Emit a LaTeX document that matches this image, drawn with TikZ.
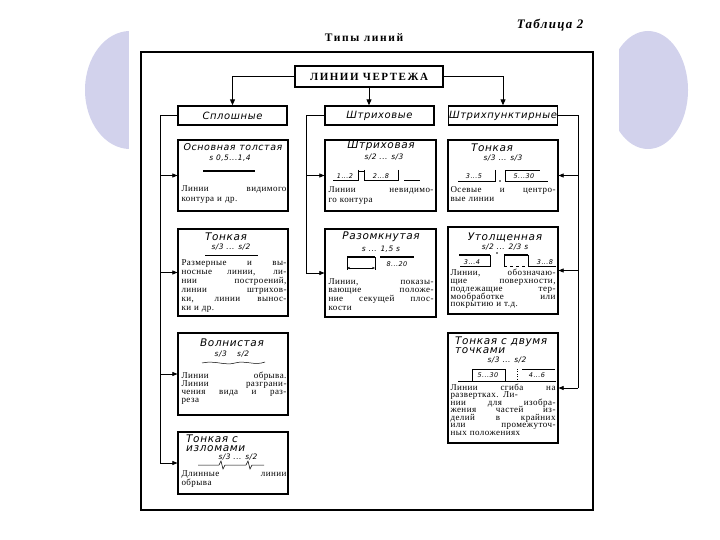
\documentclass[tikz,border=0pt]{standalone}
\usepackage{fontspec}
\setmainfont{Liberation Serif}
\newfontfamily\gost[LetterSpace=6]{DejaVu Sans}
\newfontfamily\bodyfont[LetterSpace=5]{Liberation Serif}
\usetikzlibrary{arrows.meta,positioning,calc}
\definecolor{lavender}{HTML}{D2D2EC}
\newlength{\bodyw}
\setlength{\bodyw}{105pt}
\newcommand{\jline}[1]{\makebox[\bodyw][s]{\spaceskip=0.3em plus 1fil\relax #1}}
\newcommand{\bodyset}[1]{\bodyfont\fontsize{9}{#1}\selectfont\lineskiplimit=-5pt}

\begin{document}
\begin{tikzpicture}[x=1pt, y=-1pt,
  headbox/.style={draw, line width=1.4pt, inner sep=0pt, minimum width=109pt, minimum height=19pt,
    font=\gost\itshape\fontsize{10}{11}\selectfont},
  linebox/.style={draw, line width=1.2pt, inner sep=0pt, minimum width=110pt},
  boxtitle/.style={inner sep=0pt, font=\gost\itshape\fontsize{10.5}{9}\selectfont},
  sizetext/.style={inner sep=0pt, font=\gost\itshape\fontsize{7.5}{8}\selectfont},
  dimtext/.style={inner sep=0pt, font=\gost\itshape\fontsize{6.5}{7}\selectfont},
  bodytext/.style={anchor=north, text width=\bodyw, align=left, inner sep=0pt},
  arr/.style={-{Triangle[length=5pt, width=4pt]}, line width=0.6pt},
  mainarr/.style={-{Triangle[length=6pt, width=5pt]}, line width=1pt},
  branch/.style={line width=0.6pt},
  thin/.style={line width=0.4pt},
]
\useasboundingbox (0,0) rectangle (720,540);
% slide background
\fill[lavender] (130,90) ellipse (45 and 59);
\fill[lavender] (648,90) ellipse (40 and 59);
\fill[white] (129,0) rectangle (619,540);
\draw[line width=1.2pt] (141,52) rectangle (593,510);

\node[anchor=east, font=\rmfamily\bfseries\itshape\fontsize{13}{15}\selectfont\addfontfeature{LetterSpace=10}] (tabno) at (587,25) {Таблица 2};
\node[font=\rmfamily\bfseries\fontsize{11.5}{13}\selectfont\addfontfeature{LetterSpace=14}] (caption) at (364,38) {Типы линий};

% top level
\node[draw, line width=1.5pt, minimum width=148pt, minimum height=21pt, inner sep=0pt,
  font=\rmfamily\bfseries\fontsize{11}{12}\selectfont\addfontfeature{LetterSpace=14}] (main) at (369,76.5) {ЛИНИИ ЧЕРТЕЖА};
\node[headbox] (catsolid) at (232.5,115.5) {Сплошные};
\node[headbox] (catdash) at (379.5,115.5) {Штриховые};
\node[headbox] (catdashdot) at (503,115.5) {Штрихпунктирные};

% line boxes
\node[linebox, minimum height=71pt] (a1) at (233,175.5) {};
\node[linebox, minimum height=87pt] (a2) at (233,272.5) {};
\node[linebox, minimum height=82pt] (a3) at (233,374) {};
\node[linebox, minimum height=62pt] (a4) at (233,463) {};
\node[linebox, minimum width=111pt, minimum height=71pt] (b1) at (380.5,175.5) {};
\node[linebox, minimum width=111pt, minimum height=88pt] (b2) at (380.5,273) {};
\node[linebox, minimum height=71pt] (c1) at (503,175.5) {};
\node[linebox, minimum height=87pt] (c2) at (503,270.5) {};
\node[linebox, minimum height=110pt] (c3) at (503,388) {};

% connectors
\draw[mainarr] (main.west) -| (catsolid.north);
\draw[mainarr] (main.south) -- (main.south |- catdash.north);
\draw[mainarr] (main.east) -| (catdashdot.north);
\draw[branch] (catsolid.west) -- ++(-17,0) coordinate (ta) -- (ta |- a4.west);
\foreach \b in {a1,a2,a3,a4}
  \draw[arr] (ta |- \b.west) -- (\b.west);
\draw[branch] (catdash.west) -- ++(-18,0) coordinate (tb) -- (tb |- b2.west);
\foreach \b in {b1,b2}
  \draw[arr] (tb |- \b.west) -- (\b.west);
\draw[branch, line width=1pt] (catdashdot.east) -- ++(20,0) coordinate (tc) -- (tc |- c3.east);
\foreach \b in {c1,c2,c3}
  \draw[arr] (tc |- \b.east) -- (\b.east);

% Сплошные
\node[boxtitle, font=\gost\itshape\fontsize{9.5}{9}\selectfont] (a1t) at (233,147) {Основная толстая};
\node[sizetext] (a1s) at (230,158) {s 0,5...1,4};
\draw[line width=1.6pt] (203,171) -- (255,171);
\node[bodytext, font=\bodyset{10}] (a1x) at (234,185) {\jline{Линии видимого}\\контура и др.};

\node[boxtitle] (a2t) at (226,237) {Тонкая};
\node[sizetext] (a2s) at (231,247) {s/3 ... s/2};
\draw[thin] (205,255.5) -- (258,255.5);
\node[bodytext, font=\bodyset{9}] (a2x) at (234,259) {\jline{Размерные и вы-}\\\jline{носные линии, ли-}\\\jline{нии построений,}\\\jline{линии штрихов-}\\\jline{ки, линии вынос-}\\ки и др.};

\node[boxtitle] (a3t) at (232,343) {Волнистая};
\node[sizetext] (a3s) at (232,354) {s/3 \quad s/2};
\draw[line width=0.5pt] (202,363) .. controls (215,360) and (225,366) .. (235,363) .. controls (245,360) and (255,366) .. (265,362);
\node[bodytext, font=\bodyset{8}] (a3x) at (234,372) {\jline{Линии обрыва.}\\\jline{Линии разграни-}\\\jline{чения вида и раз-}\\реза};

\node[boxtitle, anchor=north west, align=left] (a4t) at (186,434.5) {Тонкая с\\изломами};
\node[sizetext] (a4s) at (238,457) {s/3 ... s/2};
\draw[line width=0.5pt] (198,465) -- (219,465) -- (221,461) -- (223,469) -- (225,465) -- (246,465) -- (248,461) -- (250,469) -- (252,465) -- (264,465);
\node[bodytext, font=\bodyset{9}] (a4x) at (234,470.5) {\jline{Длинные линии}\\обрыва};

% Штриховые
\node[boxtitle] (b1t) at (381,146) {Штриховая};
\node[sizetext] (b1s) at (384,157) {s/2 ... s/3};
\draw[line width=1pt] (333,181) -- (358,181) (364,181) -- (398,181) (404,181) -- (420,181);
\draw[thin] (358,170) -- (358,181) (364,170) -- (364,181) (358,171) -- (364,171) (398,170) -- (398,181);
\node[dimtext] (b1g) at (345,176) {1...2};
\node[dimtext] (b1d) at (381,176) {2...8};
\node[bodytext, font=\bodyset{10}] (b1x) at (381,186) {\jline{Линии невидимо-}\\го контура};

\node[boxtitle] (b2t) at (381,237) {Разомкнутая};
\node[sizetext] (b2s) at (381,249) {s ... 1,5 s};
\draw[line width=1.4pt] (347,257) -- (375,257) (380,257) -- (414,257);
\draw[thin] (347,257) -- (347,270) (375,257) -- (375,270);
\draw[thin, {Stealth[length=3pt]}-{Stealth[length=3pt]}] (347,268) -- (375,268);
\node[dimtext] (b2d) at (397,264) {8...20};
\node[bodytext, font=\bodyset{8.7}] (b2x) at (381,278) {\jline{Линии, показы-}\\\jline{вающие положе-}\\\jline{ние секущей плос-}\\кости};

% Штрихпунктирные
\node[boxtitle] (c1t) at (492,148) {Тонкая};
\node[sizetext] (c1s) at (503,158) {s/3 ... s/3};
\draw[line width=0.6pt] (458,181) -- (495,181) (505,181) -- (548,181);
\fill (500,181) circle (0.8);
\draw[thin] (495,170) -- (495,182) (505,182) -- (505,170) -- (540,170);
\node[dimtext] (c1g) at (474,176) {3...5};
\node[dimtext] (c1d) at (524,176) {5...30};
\node[bodytext, font=\bodyset{9.5}] (c1x) at (503,186) {\jline{Осевые и центро-}\\вые линии};

\node[boxtitle] (c2t) at (505,237) {Утолщенная};
\node[sizetext] (c2s) at (505,247) {s/2 ... 2/3 s};
\draw[line width=1.4pt] (459,255) -- (490,255) (504,255) -- (528,255);
\draw[thin] (490,255) -- (490,267) (504,255) -- (504,267) (528,255) -- (528,267);
\fill (497,253) circle (0.8);
\draw[thin] (460,266) -- (490,266) (528,266) -- (556,266);
\draw[thin, dashed] (504,266) -- (528,266);
\node[dimtext] (c2g) at (472,262) {3...4};
\node[dimtext] (c2d) at (545,262) {3...8};
\node[bodytext, font=\bodyset{7.8}] (c2x) at (503,269) {\jline{Линии, обозначаю-}\\\jline{щие поверхности,}\\\jline{подлежащие тер-}\\\jline{мообработке или}\\покрытию и т.д.};

\node[boxtitle, anchor=north west, align=left] (c3t) at (455,337) {Тонкая с двумя\\точками};
\node[sizetext] (c3s) at (507,360) {s/3 ... s/2};
\draw[thin] (472,381) -- (472,369) -- (505,369) -- (505,381);
\draw[thin, dotted] (517,369) -- (517,381);
\draw[thin] (522,369) -- (555,369);
\draw[line width=0.5pt] (458,381) -- (556,381);
\node[dimtext] (c3g) at (488,375) {5...30};
\node[dimtext] (c3d) at (537,375) {4...6};
\node[bodytext, font=\bodyset{7.5}] (c3x) at (503,383.5) {\jline{Линии сгиба на}\\\jline{развертках. Ли-}\\\jline{нии для изобра-}\\\jline{жения частей из-}\\\jline{делий в крайних}\\\jline{или промежуточ-}\\ных положениях};
\end{tikzpicture}
\end{document}
